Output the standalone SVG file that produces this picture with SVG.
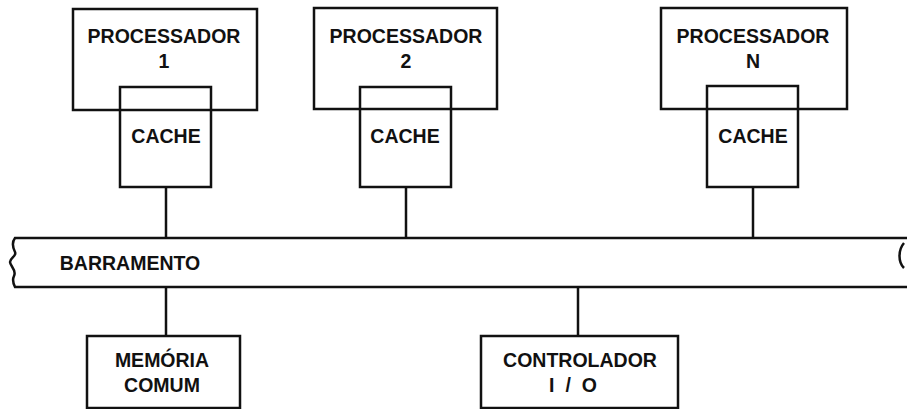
<svg xmlns="http://www.w3.org/2000/svg" width="907" height="409" viewBox="0 0 907 409">
<style>
.box{fill:none;stroke:#111;stroke-width:2.5}
.ln{fill:none;stroke:#111;stroke-width:2.5}
text{font-family:"Liberation Sans",Arial,sans-serif;font-weight:bold;font-size:19.5px;fill:#111;text-anchor:middle}
</style>
<rect width="907" height="409" fill="#fff"/>
<g id="connectors">
<line class="ln" x1="166" y1="187" x2="166" y2="238"/>
<line class="ln" x1="406" y1="187" x2="406" y2="238"/>
<line class="ln" x1="753" y1="187" x2="753" y2="238"/>
<line class="ln" x1="166" y1="287" x2="166" y2="336"/>
<line class="ln" x1="578" y1="287" x2="578" y2="336"/>
</g>
<g id="proc1">
<rect class="box" x="73" y="9" width="184" height="101"/>
<text x="164" y="43">PROCESSADOR</text>
<text x="164" y="68">1</text>
</g>
<g id="cache1">
<rect class="box" x="120" y="87" width="91" height="100"/>
<text x="166" y="143">CACHE</text>
</g>
<g id="proc2">
<rect class="box" x="314" y="8" width="183" height="101"/>
<text x="406" y="43">PROCESSADOR</text>
<text x="406" y="68">2</text>
</g>
<g id="cache2">
<rect class="box" x="360" y="87" width="91" height="100"/>
<text x="405" y="143">CACHE</text>
</g>
<g id="procN">
<rect class="box" x="661" y="8" width="186" height="101"/>
<text x="753" y="43">PROCESSADOR</text>
<text x="753" y="68">N</text>
</g>
<g id="cacheN">
<rect class="box" x="707" y="86" width="91" height="101"/>
<text x="753" y="143">CACHE</text>
</g>
<g id="bus">
<path class="ln" d="M907,238 H15 C12,242 13,248 15,252 C17,256 10,258 10,262 C10,266 17,270 14,276 C12,280 14,285 15,287 H907"/>
<path class="ln" d="M904,243 C898,250 898,262 904,268"/>
<text x="130" y="270">BARRAMENTO</text>
</g>
<g id="memoria">
<rect class="box" x="87" y="336" width="153" height="72"/>
<text x="162" y="367">MEMÓRIA</text>
<text x="162" y="392">COMUM</text>
</g>
<g id="controlador">
<rect class="box" x="481" y="336" width="197" height="72"/>
<text x="580" y="367">CONTROLADOR</text>
<text x="549" y="392" style="text-anchor:start;letter-spacing:11px">I/O</text>
</g>
</svg>
